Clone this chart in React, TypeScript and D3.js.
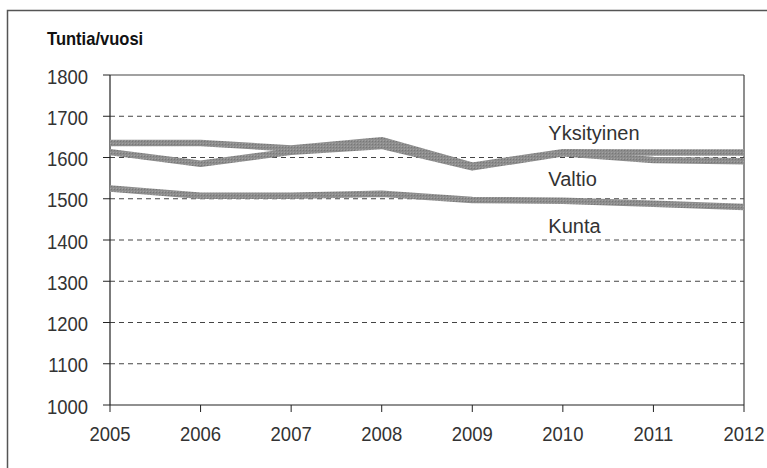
import React from "react";
import * as d3 from "d3";

const years = [2005, 2006, 2007, 2008, 2009, 2010, 2011, 2012];
const yksityinen = [1635, 1635, 1622, 1642, 1580, 1613, 1612, 1612];
const valtio = [1613, 1585, 1614, 1628, 1576, 1610, 1594, 1591];
const kunta = [1525, 1507, 1507, 1512, 1497, 1495, 1488, 1480];
const yTicks = [1000, 1100, 1200, 1300, 1400, 1500, 1600, 1700, 1800];

const series = [
  { name: "Yksityinen", values: yksityinen, labelYear: 2009.84, labelValue: 1659 },
  { name: "Valtio", values: valtio, labelYear: 2009.84, labelValue: 1548 },
  { name: "Kunta", values: kunta, labelYear: 2009.84, labelValue: 1434 },
];

export default function App() {
  const W = 767, H = 468;
  const left = 110, right = 744, top = 75, bottom = 405;
  const x = d3.scaleLinear().domain([2005, 2012]).range([left, right]);
  const y = d3.scaleLinear().domain([1000, 1800]).range([bottom, top]);
  const line = d3.line<number>().x((_, i) => x(years[i])).y((v) => y(v));
  const font = "Arial, 'Liberation Sans', sans-serif";

  return (
    <svg width={W} height={H} style={{ position: "absolute", left: 0, top: 0 }} fontFamily={font}>
      <defs>
        <pattern id="hatch" width="3" height="3" patternUnits="userSpaceOnUse">
          <rect width="3" height="3" fill="#8d8d8d" />
          <rect width="1" height="1" fill="#777" />
          <rect x="2" y="2" width="1" height="1" fill="#a2a2a2" />
        </pattern>
      </defs>
      <rect x={0} y={0} width={W} height={H} fill="#fff" />
      <rect x={7.5} y={10.5} width={W + 10} height={H + 10} fill="none" stroke="#555" strokeWidth={1.5} />
      <g transform="translate(47,45) scale(0.92,1)">
        <text x={0} y={0} fontSize={18} fontWeight="bold" fill="#111">Tuntia/vuosi</text>
      </g>
      {yTicks.slice(1, -1).map((t) => (
        <line key={t} x1={left} x2={right} y1={y(t)} y2={y(t)} stroke="#444" strokeWidth={1} strokeDasharray="5,4" />
      ))}
      <line x1={left} x2={right} y1={top} y2={top} stroke="#444" strokeWidth={1.2} />
      <line x1={right} x2={right} y1={top} y2={bottom} stroke="#444" strokeWidth={1.2} />
      <line x1={left} x2={left} y1={top} y2={bottom} stroke="#222" strokeWidth={1.2} />
      <line x1={left} x2={right} y1={bottom} y2={bottom} stroke="#222" strokeWidth={1.2} />
      {yTicks.map((t) => (
        <g key={t}>
          <line x1={left - 7} x2={left} y1={y(t)} y2={y(t)} stroke="#222" />
          <g transform={`translate(88,${y(t) + 1})`}>
            <text transform="scale(0.88,1)" x={0} y={0} dy="0.36em" textAnchor="end" fontSize={21} fill="#333">{t}</text>
          </g>
        </g>
      ))}
      {years.map((yr) => (
        <g key={yr}>
          <line x1={x(yr)} x2={x(yr)} y1={bottom} y2={bottom + 7} stroke="#222" />
          <g transform={`translate(${x(yr)},441)`}>
            <text transform="scale(0.88,1)" x={0} y={0} textAnchor="middle" fontSize={21} fill="#333">{yr}</text>
          </g>
        </g>
      ))}
      {series.map((s) => (
        <path key={s.name} d={line(s.values) || ""} fill="none" stroke="url(#hatch)" strokeWidth={6.5} strokeLinejoin="round" />
      ))}
      {series.map((s) => (
        <text key={s.name + "l"} x={x(s.labelYear)} y={y(s.labelValue)} dy="0.36em" textAnchor="start" fontSize={20} fill="#333">{s.name}</text>
      ))}
    </svg>
  );
}
